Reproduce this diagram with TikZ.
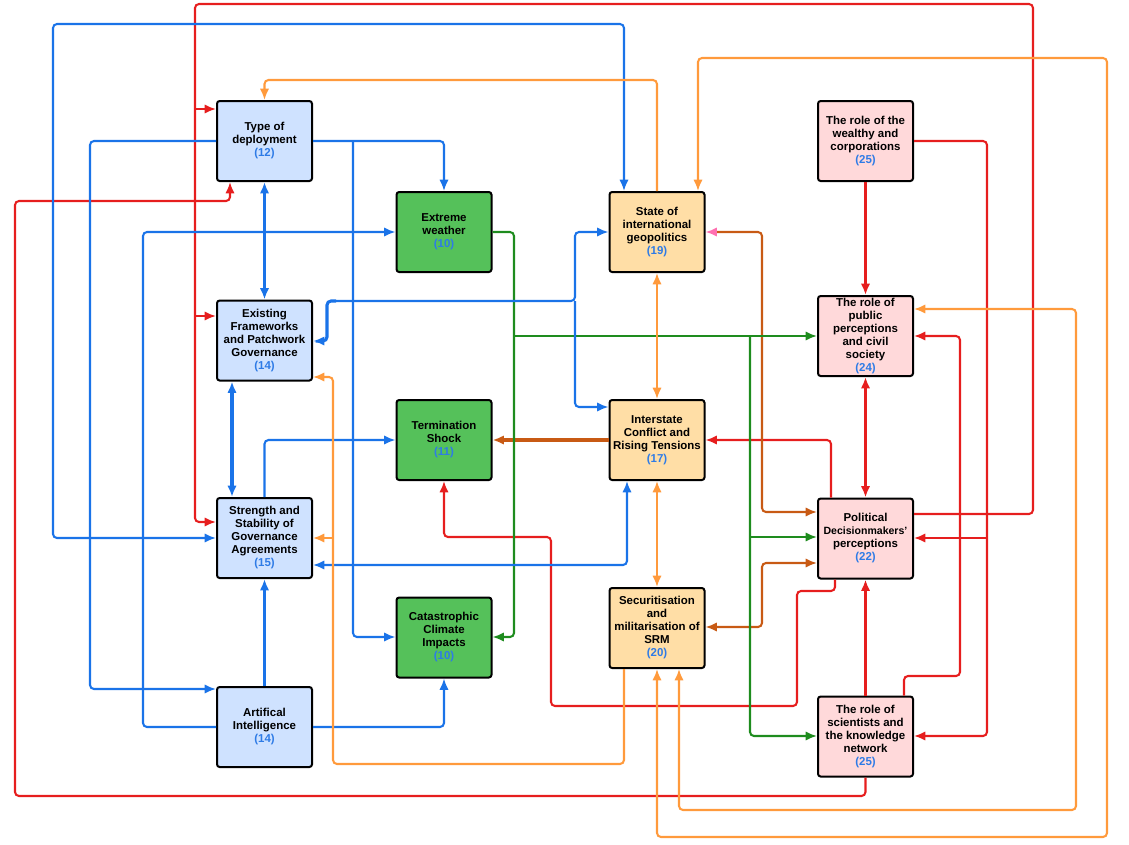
\documentclass[tikz,border=0pt]{standalone}
\usepackage{fontspec}
\setmainfont{Liberation Sans}
\usetikzlibrary{arrows.meta}
\definecolor{cred}{HTML}{E61E1E}
\definecolor{cblue}{HTML}{1A73E8}
\definecolor{cgreen}{HTML}{1E8C1E}
\definecolor{corange}{HTML}{FF9A3C}
\definecolor{cdorange}{HTML}{C85A14}
\definecolor{cpink}{HTML}{FF6FB0}
\definecolor{fblue}{HTML}{CFE2FF}
\definecolor{fgreen}{HTML}{55C15A}
\definecolor{forange}{HTML}{FFDEA6}
\definecolor{fpink}{HTML}{FFD9DA}
\definecolor{cnum}{HTML}{2E7BE6}
\newcommand{\nm}[1]{\textcolor{cnum}{#1}}
\begin{document}
\begin{tikzpicture}[x=0.75pt,y=-0.75pt,
  >={Latex[length=8.5pt,width=7pt]},
  box/.style={draw=black, line width=1.5pt, rounded corners=2pt,
    minimum width=71.25pt, minimum height=60pt, inner sep=0pt,
    align=center, font=\fontsize{8.6}{9.75}\selectfont\bfseries},
  bbox/.style={box, fill=fblue},
  gbox/.style={box, fill=fgreen},
  obox/.style={box, fill=forange},
  pbox/.style={box, fill=fpink},
  conn/.style={line width=1.55pt, rounded corners=3pt},
  thick conn/.style={line width=2.3pt, rounded corners=3pt},
]
\useasboundingbox (0,0) rectangle (1129,844);

% nodes
\node[bbox] (T) at (264.5,141) {Type of\\deployment\\\nm{(12)}};
\node[bbox] (E) at (264.5,340.5) {Existing\\Frameworks\\and Patchwork\\Governance\\\nm{(14)}};
\node[bbox] (S) at (264.5,538) {Strength and\\Stability of\\Governance\\Agreements\\\nm{(15)}};
\node[bbox] (A) at (264.5,727) {Artifical\\Intelligence\\\nm{(14)}};
\node[gbox] (W) at (444,232) {Extreme\\weather\\\nm{(10)}};
\node[gbox] (TS) at (444,440) {Termination\\Shock\\\nm{(11)}};
\node[gbox] (C) at (444,637.5) {Catastrophic\\Climate\\Impacts\\\nm{(10)}};
\node[obox] (G) at (657,232) {State of\\international\\geopolitics\\\nm{(19)}};
\node[obox] (I) at (657,440) {Interstate\\Conflict and\\Rising Tensions\\\nm{(17)}};
\node[obox] (SR) at (657,628) {Securitisation\\and\\militarisation of\\SRM\\\nm{(20)}};
\node[pbox] (R) at (865.5,141) {The role of the\\wealthy and\\corporations\\\nm{(25)}};
\node[pbox] (P) at (865.5,336) {The role of\\public\\perceptions\\and civil\\society\\\nm{(24)}};
\node[pbox] (D) at (865.5,538.5) {Political\\{\fontsize{7.9}{9.75}\selectfont Decisionmakers'}\\perceptions\\\nm{(22)}};
\node[pbox] (K) at (865.5,736.5) {The role of\\scientists and\\the knowledge\\network\\\nm{(25)}};

% ---------- red ----------
\draw[conn,cred,->] (D.east |- 0,514) -- (1033,514) -- (1033,4) -- (195,4) -- (195,522) -- (S.west |- 0,522);
\draw[conn,cred,->] (195,109) -- (T.west |- 0,109);
\draw[conn,cred,->] (195,316) -- (E.west |- 0,316);
\draw[conn,cred,->] (K.south) -- (865.5,796) -- (15,796) -- (15,201) -- (230,201) -- (T.south -| 230,0);
\draw[thick conn,cred,->] (R.south) -- (P.north);
\draw[conn,cred,->] (R.east) -- (987,141) -- (987,736) -- (K.east |- 0,736);
\draw[conn,cred,->] (987,538) -- (D.east |- 0,538);
\draw[thick conn,cred,<->] (P.south) -- (D.north);
\draw[thick conn,cred,->] (K.north) -- (D.south);
\draw[conn,cred,->] (K.north -| 904,0) -- (904,676) -- (960,676) -- (960,336) -- (P.east |- 0,336);
\draw[conn,cred,->] (D.north -| 831,0) -- (831,440) -- (I.east |- 0,440);
\draw[conn,cred,->] (D.south -| 835,0) -- (835,591) -- (797,591) -- (797,706) -- (551,706) -- (551,537) -- (444,537) -- (TS.south);

% ---------- dark orange ----------
\draw[thick conn,cdorange,->] (I.west |- 0,440) -- (TS.east |- 0,440);
\draw[conn,cdorange,{Latex[length=8.5pt,width=7pt,color=cpink]}->] (G.east) -- (762,232) -- (762,512) -- (D.west |- 0,512);
\draw[conn,cdorange,<->] (SR.east |- 0,627) -- (762,627) -- (762,563) -- (D.west |- 0,563);

% ---------- green ----------
\draw[conn,cgreen,->] (W.east) -- (514,232) -- (514,637) -- (C.east |- 0,637);
\draw[conn,cgreen,->] (514,336) -- (P.west |- 0,336);
\draw[conn,cgreen,->] (750,336) -- (750,736) -- (K.west |- 0,736);
\draw[conn,cgreen,->] (750,537) -- (D.west |- 0,537);

% ---------- blue ----------
\draw[thick conn,cblue,<->] (T.south) -- (E.north);
\draw[thick conn,cblue,<->] (E.south -| 232,0) -- (S.north -| 232,0);
\draw[thick conn,cblue,->] (A.north) -- (S.south);
\draw[conn,cblue,<->] (G.north -| 624,0) -- (624,24) -- (53,24) -- (53,538) -- (S.west |- 0,538);
\draw[conn,cblue,->] (T.west) -- (90,141) -- (90,689) -- (A.west |- 0,689);
\draw[conn,cblue,->] (T.east) -- (444,141) -- (W.north);
\draw[conn,cblue,->] (353,141) -- (353,637) -- (C.west |- 0,637);
\draw[conn,cblue,->] (A.west) -- (143,727) -- (143,232) -- (W.west);
\draw[conn,cblue,->] (A.east) -- (444,727) -- (C.south);
\draw[conn,cblue,->] (S.north) -- (264.5,440) -- (TS.west |- 0,440);
\draw[conn,cblue,<->] (I.south -| 627,0) -- (627,565) -- (S.east |- 0,565);
\draw[thick conn,cblue,<-] (E.east |- 0,341) -- (327,341) -- (327,301) -- (336,301);
\coordinate (ej) at (336,301);
\draw[conn,cblue,->] (ej) -- (575,301) -- (575,232) -- (G.west);
\draw[conn,cblue,->] (575,301) -- (575,407) -- (I.west |- 0,407);

% ---------- orange ----------
\draw[conn,corange,->] (G.north) -- (657,80) -- (264.5,80) -- (T.north);
\draw[conn,corange,<->] (G.north -| 698,0) -- (698,58) -- (1107,58) -- (1107,837) -- (657,837) -- (SR.south);
\draw[conn,corange,<->] (P.east |- 0,309) -- (1076,309) -- (1076,810) -- (679,810) -- (SR.south -| 679,0);
\draw[conn,corange,<->] (G.south) -- (I.north);
\draw[conn,corange,<->] (I.south) -- (SR.north);
\draw[conn,corange,->] (SR.south -| 624,0) -- (624,764) -- (333,764) -- (333,377) -- (E.east |- 0,377);
\draw[conn,corange,->] (333,538) -- (S.east |- 0,538);
\end{tikzpicture}
\end{document}
